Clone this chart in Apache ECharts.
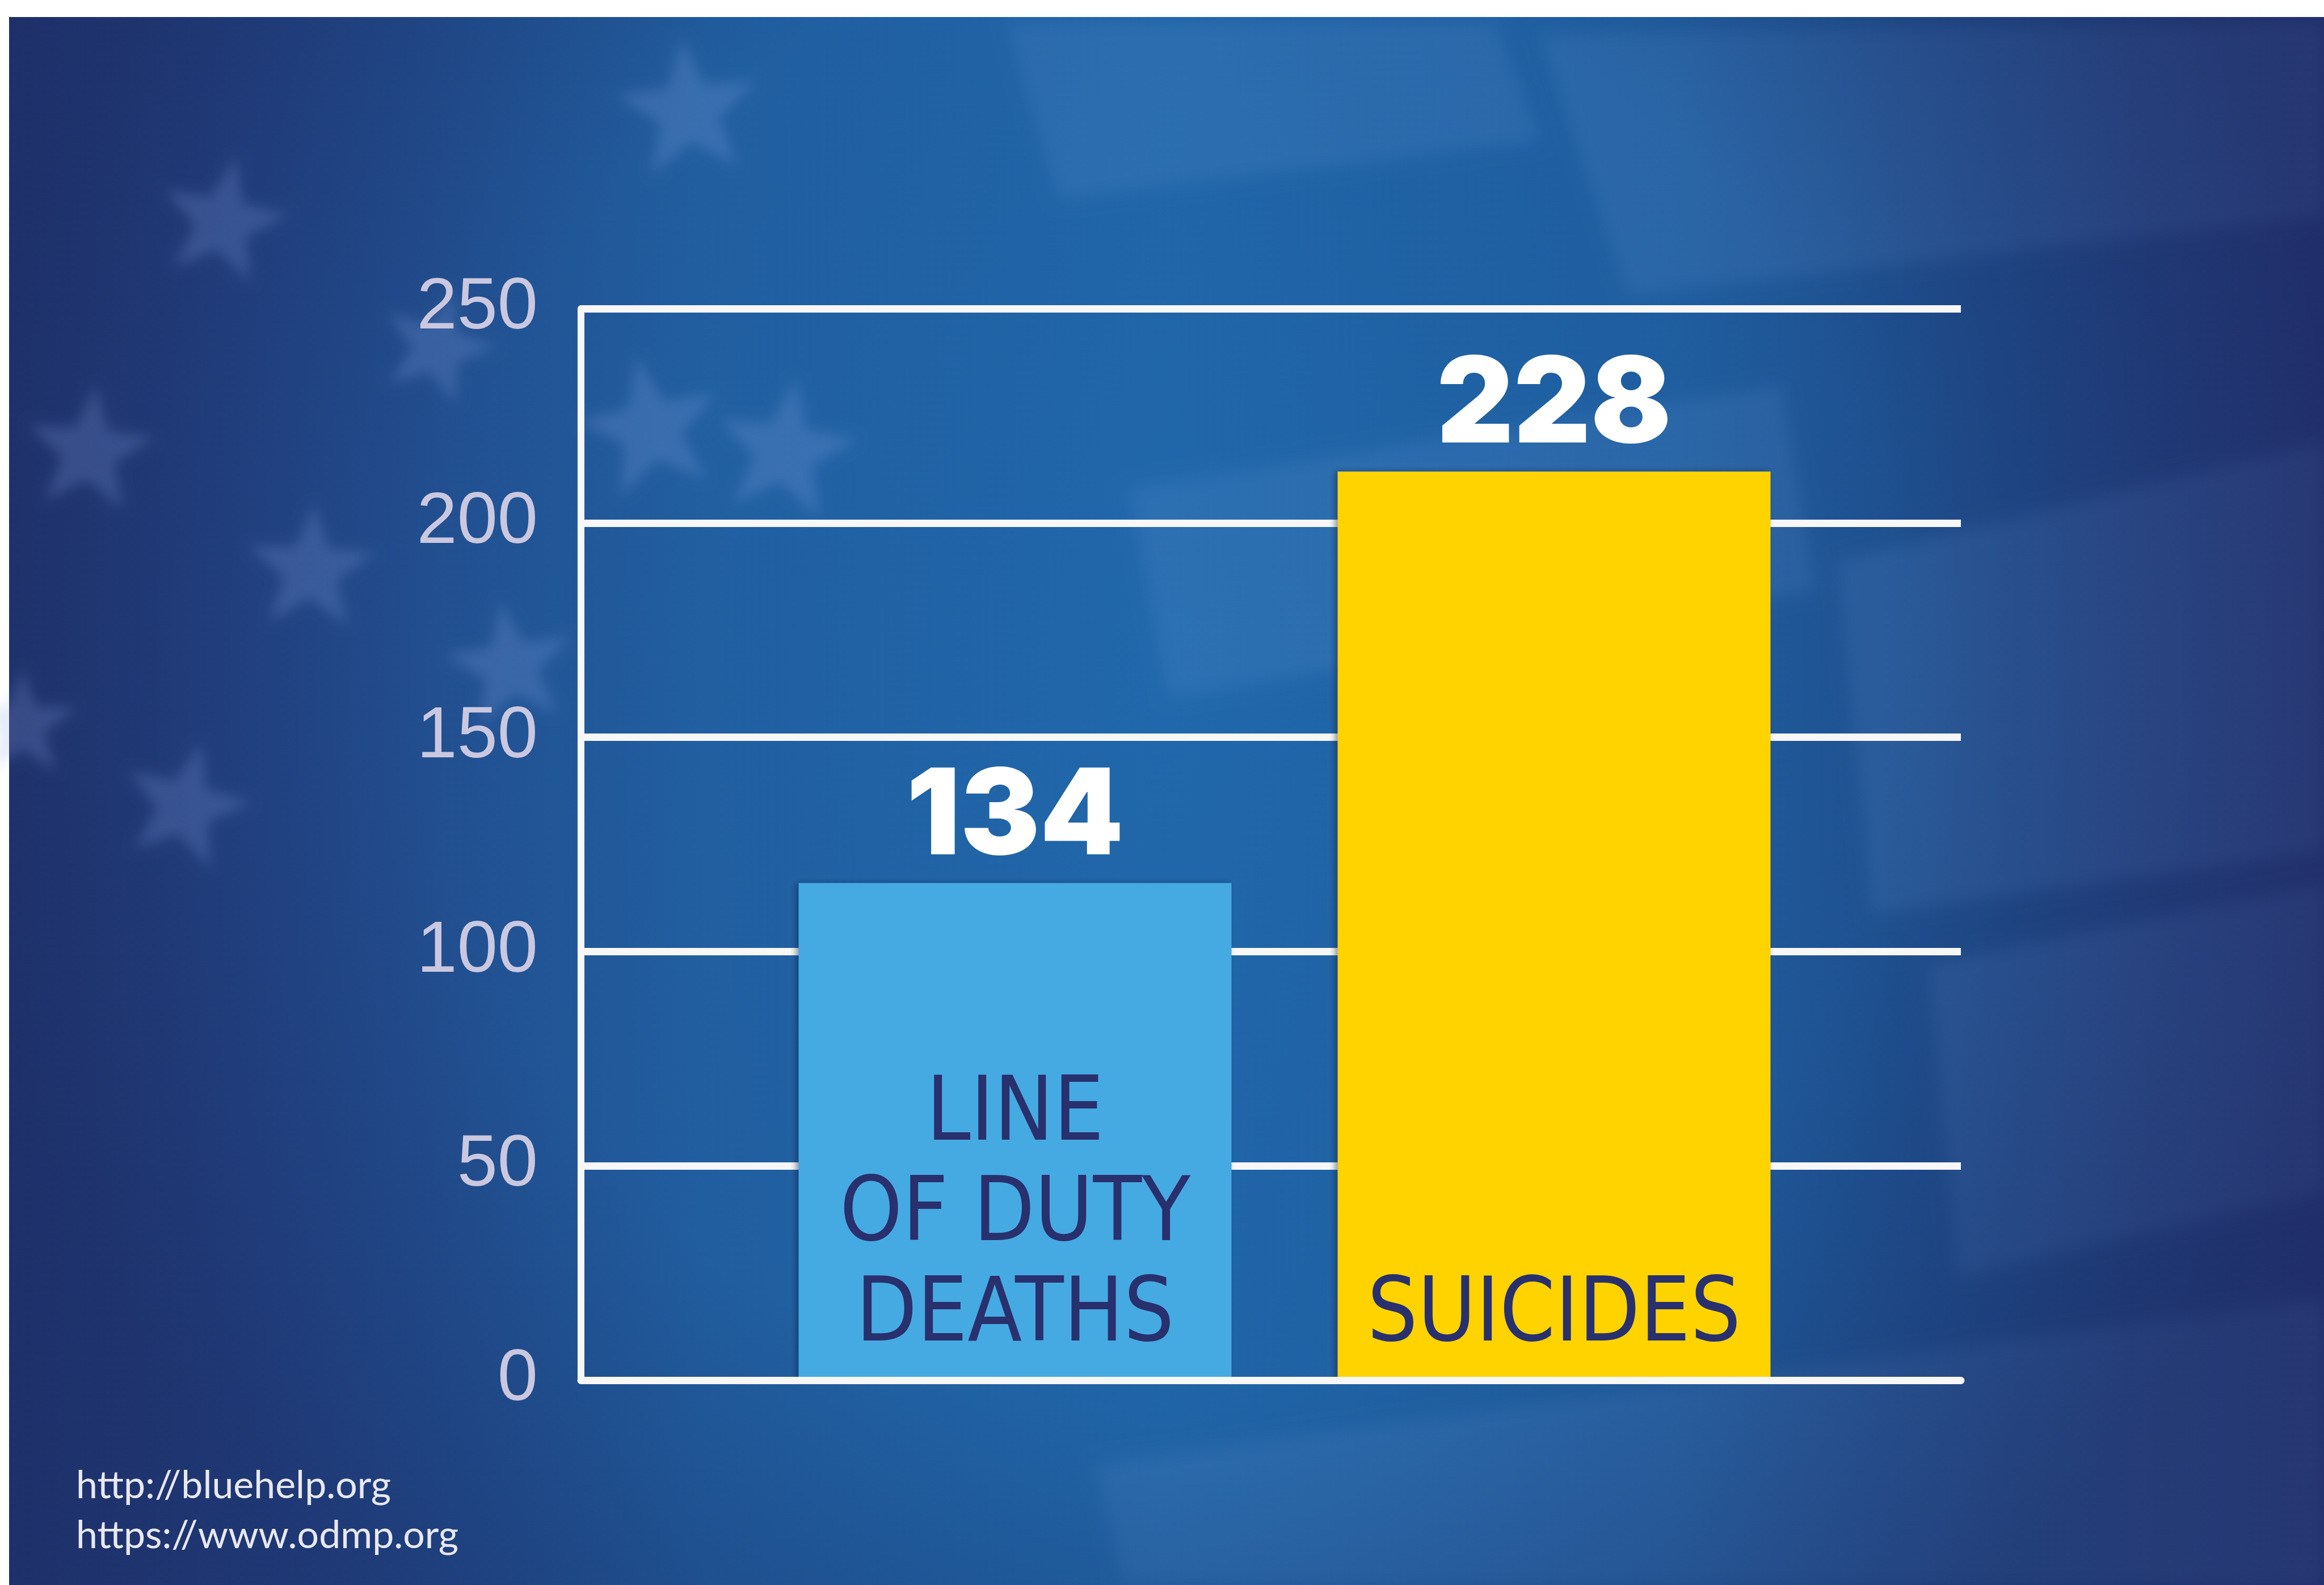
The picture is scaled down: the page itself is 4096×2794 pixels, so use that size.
<!DOCTYPE html>
<html>
<head>
<meta charset="UTF-8">
<title>Line of duty deaths vs suicides</title>
<script src="https://cdn.jsdelivr.net/npm/echarts@6.0.0/dist/echarts.min.js"></script>
<style>
	html, body { margin: 0; padding: 0; background: #fff; }
	#chart { width: 4096px; height: 2794px; }
</style>
</head>
<body>
<div id="chart"></div>
<script type="text/javascript">
// data
// note: the bars in the source are drawn shorter than the counts printed above them
var categories = ['LINE\nOF DUTY\nDEATHS', 'SUICIDES'];
var barHeights = [116, 212];
var valueLabels = ['134', '228'];
var barColors = ['#46aae2', '#fed300'];
var yTicks = [0, 50, 100, 150, 200, 250];
var sources = ['http://bluehelp.org', 'https://www.odmp.org'];

// star shape for the flag backdrop
function starPoints(cx, cy, r, rot) {
	var pts = [];
	for(var i = 0; i < 10; i++) {
		var rr = i % 2 ? r * 0.42 : r;
		var a = -Math.PI / 2 + rot + i * Math.PI / 5;
		pts.push([cx + rr * Math.cos(a), cy + rr * Math.sin(a)]);
	}
	return pts;
}
// soft shape: draw it far off to the left and keep only its blurred shadow
var OFF = 10000;
function softPoly(points, color, blur, z) {
	return {
		type: 'polygon', z: z, silent: true,
		shape: { points: points.map(function(p) { return [p[0] - OFF, p[1]]; }) },
		style: { fill: '#000', shadowColor: color, shadowBlur: blur, shadowOffsetX: OFF, shadowOffsetY: 0 }
	};
}

var W = 4096, H = 2794;
var bg = [];
// blue panel (white strip on top and left)
bg.push({
	type: 'rect', z: -20, silent: true,
	shape: { x: 16, y: 30, width: W - 16, height: H - 30 },
	style: {
		fill: new echarts.graphic.LinearGradient(0, 0, 1, 0, [
			{ offset: 0, color: '#223b77' },
			{ offset: 0.12, color: '#23498a' },
			{ offset: 0.3, color: '#2161a3' },
			{ offset: 0.5, color: '#2068ab' },
			{ offset: 0.72, color: '#1f60a2' },
			{ offset: 0.87, color: '#1f4a88' },
			{ offset: 1, color: '#263878' }
		])
	}
});
// flag stripes, soft light patches
var patches = [
	[[1775, 39], [2636, 39], [2714, 248], [1866, 352]],
	[[2714, 60], [4096, 40], [4096, 380], [2870, 520]],
	[[1990, 860], [3140, 680], [3200, 1040], [2060, 1230]],
	[[3240, 990], [4096, 780], [4096, 1500], [3300, 1610]],
	[[1930, 2580], [4096, 2290], [4096, 2794], [1980, 2794]],
	[[3400, 1700], [4096, 1560], [4096, 2100], [3450, 2250]]
];
patches.forEach(function(p) {
	bg.push(softPoly(p, 'rgba(120,170,230,0.13)', 30, -18));
});
// vignette
bg.push({
	type: 'rect', z: -16, silent: true,
	shape: { x: 16, y: 30, width: W - 16, height: H - 30 },
	style: {
		fill: new echarts.graphic.RadialGradient(0.5, 0.42, 0.78, [
			{ offset: 0, color: 'rgba(25,35,90,0)' },
			{ offset: 0.6, color: 'rgba(25,35,90,0.05)' },
			{ offset: 1, color: 'rgba(25,35,90,0.45)' }
		])
	}
});
// stars top left
var stars = [
	[392, 392, 117, 0.2], [1214, 196, 130, -0.1], [770, 613, 105, 0.3],
	[157, 796, 117, 0.1], [1148, 757, 130, -0.2], [1383, 796, 130, 0.15],
	[548, 1005, 117, 0.05], [900, 1175, 117, -0.15], [326, 1422, 117, 0.25],
	[39, 1279, 100, 0]
];
stars.forEach(function(s) {
	bg.push(softPoly(starPoints(s[0], s[1], s[2], s[3]), 'rgba(140,170,230,0.22)', 22, -14));
});
// sources
bg.push({
	type: 'text', z: 20, silent: true,
	style: {
		x: 134, y: 2575,
		text: sources.join('\n'),
		font: '68px Lato',
		lineHeight: 88,
		fill: '#e8e8f2',
		verticalAlign: 'top'
	}
});

var chart = echarts.init(document.getElementById('chart'));
var option = {
	backgroundColor: '#ffffff',
	animation: false,
	graphic: bg,
	grid: [
		{ left: 1024, right: 640, top: 544, bottom: 361 },
		{ left: 1314, right: 882, top: 544, bottom: 361 }
	],
	xAxis: [{
		gridIndex: 0,
		type: 'value',
		min: 0,
		max: 1,
		z: 10,
		axisLine: { show: true, lineStyle: { color: '#f7f7f7', width: 13 } },
		axisTick: { show: false },
		axisLabel: { show: false },
		splitLine: { show: false }
	}, {
		gridIndex: 1,
		type: 'category',
		data: categories,
		z: 10,
		axisLine: { show: false },
		axisTick: { show: false },
		axisLabel: {
			inside: true,
			interval: 0,
			margin: 22,
			verticalAlign: 'bottom',
			color: '#28306e',
			fontFamily: '"DejaVu Sans Condensed", Lato, sans-serif',
			fontSize: 156,
			lineHeight: 177
		}
	}],
	yAxis: [{
		gridIndex: 0,
		type: 'value',
		min: yTicks[0],
		max: yTicks[yTicks.length - 1],
		interval: yTicks[1] - yTicks[0],
		axisLine: { show: true, lineStyle: { color: '#f7f7f7', width: 12 } },
		axisTick: { show: false },
		axisLabel: {
			margin: 76,
			color: '#cac8e0',
			fontFamily: '"Liberation Sans", Arial, sans-serif',
			fontSize: 128
		},
		splitLine: { show: true, lineStyle: { color: '#f7f7f7', width: 13 } }
	}, {
		gridIndex: 1,
		type: 'value',
		min: yTicks[0],
		max: yTicks[yTicks.length - 1],
		show: false
	}],
	series: [{
		type: 'bar',
		xAxisIndex: 1,
		yAxisIndex: 1,
		barWidth: 763,
		data: barHeights.map(function(v, i) {
			return { value: v, itemStyle: { color: barColors[i] } };
		}),
		itemStyle: {
			shadowColor: 'rgba(10,20,60,0.45)',
			shadowBlur: 10,
			shadowOffsetX: -5
		},
		label: {
			show: true,
			position: 'top',
			distance: 9,
			formatter: function(p) { return valueLabels[p.dataIndex]; },
			color: '#ffffff',
			fontFamily: 'Inter, Lato, sans-serif',
			fontWeight: 900,
			fontSize: 210,
			lineHeight: 210
		}
	}]
};
chart.setOption(option);
</script>
</body>
</html>
